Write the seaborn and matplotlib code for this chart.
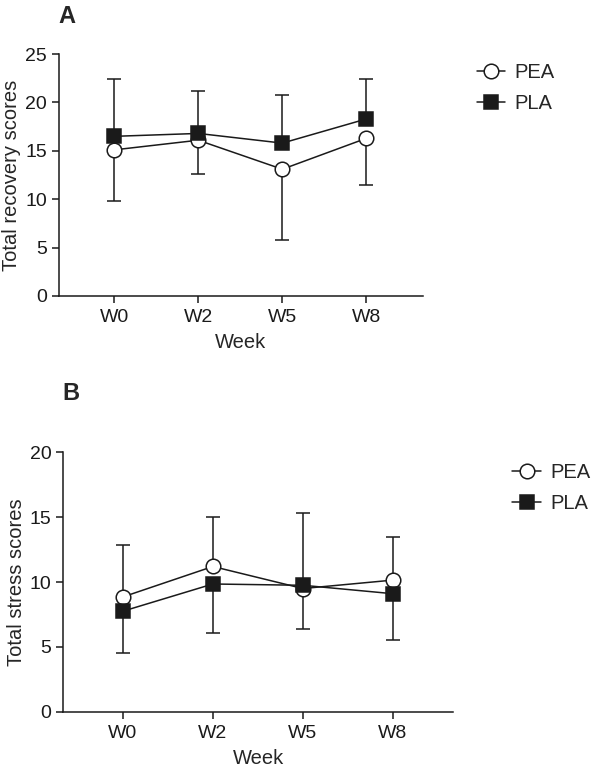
import matplotlib
matplotlib.use("Agg")
import matplotlib.pyplot as plt
from matplotlib.lines import Line2D
import seaborn as sns
import pandas as pd

weeks = ["W0", "W2", "W5", "W8"]

# panel A: total recovery scores
rec_pea = [15.1, 16.1, 13.1, 16.3]
rec_pea_err = [5.3, 3.5, 7.3, 4.8]      # drawn downward
rec_pla = [16.5, 16.8, 15.8, 18.3]
rec_pla_err = [5.9, 4.4, 5.0, 4.1]      # drawn upward

# panel B: total stress scores
str_pea = [8.85, 11.2, 9.5, 10.15]
str_pea_err = [4.0, 3.8, 5.8, 3.35]     # drawn upward
str_pla = [7.75, 9.85, 9.75, 9.1]
str_pla_err = [3.25, 3.75, 3.35, 3.6]   # drawn downward

INK = "#1a1a1a"

sns.set_style("ticks")
plt.rcParams["font.family"] = ["Liberation Sans", "DejaVu Sans"]

fig = plt.figure(figsize=(5.98, 7.74), dpi=100)
ax_a = fig.add_axes([0.098, 0.6176, 0.609, 0.3125])
ax_b = fig.add_axes([0.106, 0.0805, 0.652, 0.335])


def draw_panel(ax, pea, pea_err, pea_dir, pla, pla_err, pla_dir, ymax, ystep, ylabel):
    df = pd.DataFrame({
        "week": weeks * 2,
        "score": pea + pla,
        "group": ["PEA"] * 4 + ["PLA"] * 4,
    })
    # one-sided error bars, behind the markers
    for vals, err, d in [(pea, pea_err, pea_dir), (pla, pla_err, pla_dir)]:
        lo = err if d == "down" else [0] * 4
        hi = err if d == "up" else [0] * 4
        ax.errorbar(range(4), vals, yerr=[lo, hi], fmt="none", ecolor=INK,
                    elinewidth=1.1, capsize=5, capthick=1.1, zorder=1)
    sns.lineplot(data=df, x="week", y="score", hue="group", style="group",
                 markers={"PEA": "o", "PLA": "s"}, dashes=False,
                 palette={"PEA": INK, "PLA": INK},
                 linewidth=1.1, markersize=10.5, markeredgewidth=1.1,
                 markeredgecolor=INK, legend=False, ax=ax, zorder=3)
    for ln in ax.lines:
        if ln.get_marker() == "o":
            ln.set_markerfacecolor("white")
        elif ln.get_marker() == "s":
            ln.set_markerfacecolor(INK)
    ax.set_xlim(-0.66, 3.67)
    ax.set_ylim(0, ymax)
    ax.set_yticks(range(0, ymax + 1, ystep))
    ax.set_xticks(range(4))
    ax.set_xticklabels(weeks)
    ax.set_xlabel("Week", fontsize=14.5, labelpad=5)
    ax.set_ylabel(ylabel, fontsize=14.5, labelpad=3)
    ax.tick_params(labelsize=14, width=1.1, length=5, color=INK, labelcolor=INK)
    ax.tick_params(axis="x", pad=4.5)
    for s in ["left", "bottom"]:
        ax.spines[s].set_linewidth(1.1)
        ax.spines[s].set_color(INK)
    sns.despine(ax=ax)


draw_panel(ax_a, rec_pea, rec_pea_err, "down", rec_pla, rec_pla_err, "up", 25, 5,
           "Total recovery scores")
draw_panel(ax_b, str_pea, str_pea_err, "up", str_pla, str_pla_err, "down", 20, 5,
           "Total stress scores")

handles = [
    Line2D([], [], color=INK, marker="o", markerfacecolor="white", markersize=10.5,
           markeredgewidth=1.1, linewidth=1.1),
    Line2D([], [], color=INK, marker="s", markerfacecolor=INK, markersize=10.5,
           markeredgewidth=1.1, linewidth=1.1),
]
leg_kw = dict(loc="center left", frameon=False, fontsize=14.5, handlelength=1.4,
              handletextpad=0.5, labelspacing=0.6, borderaxespad=0, borderpad=0)
fig.legend(handles, ["PEA", "PLA"], bbox_to_anchor=(0.797, 0.886), **leg_kw)
fig.legend(handles, ["PEA", "PLA"], bbox_to_anchor=(0.857, 0.369), **leg_kw)

fig.text(0.098, 0.994, "A", fontsize=17, fontweight="bold", va="top", ha="left")
fig.text(0.104, 0.506, "B", fontsize=17, fontweight="bold", va="top", ha="left")

fig.savefig("out.png", dpi=100)
